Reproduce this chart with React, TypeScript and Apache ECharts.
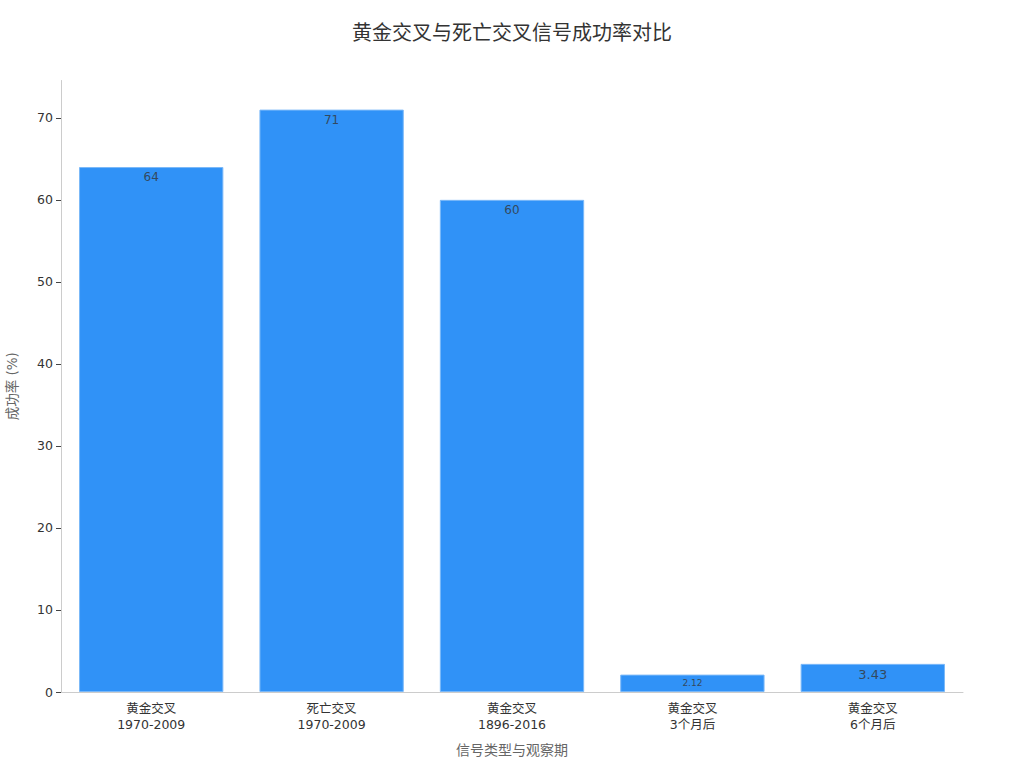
import * as echarts from 'echarts';
import React, { useEffect, useRef } from 'react';

const categories = [
  '黄金交叉\n1970-2009',
  '死亡交叉\n1970-2009',
  '黄金交叉\n1896-2016',
  '黄金交叉\n3个月后',
  '黄金交叉\n6个月后',
];
const successRates = [64, 71, 60, 2.12, 3.43];
const yTicks = [0, 10, 20, 30, 40, 50, 60, 70];

// label sizes differ per bar, like the original
const labelSizes = [12, 12, 12, 9, 13];

const FONT = '"DejaVu Sans", "Noto Sans CJK SC", sans-serif';

const App: React.FC = () => {
  const chartRef = useRef<HTMLDivElement>(null);

  useEffect(() => {
    const myChart = echarts.init(chartRef.current!, null, { renderer: 'svg' });

    const option = {
      animation: false,
      textStyle: { fontFamily: FONT },
      title: {
        text: '黄金交叉与死亡交叉信号成功率对比',
        left: 'center',
        top: 18,
        textStyle: { fontSize: 20, fontWeight: 'normal', color: '#333', fontFamily: FONT },
      },
      grid: { left: 61, right: 61, top: 80.5, bottom: 76, outerBoundsMode: 'none' },
      xAxis: {
        type: 'category',
        data: categories,
        name: '信号类型与观察期',
        nameLocation: 'middle',
        nameGap: 51,
        nameMoveOverlap: false,
        nameTextStyle: { fontSize: 14, color: '#666', fontFamily: FONT },
        axisLine: { lineStyle: { color: '#ccc' } },
        axisTick: { alignWithLabel: true, length: 5, lineStyle: { color: '#444' } },
        axisLabel: { fontSize: 12.5, color: '#333', lineHeight: 16, margin: 8, fontFamily: FONT },
      },
      yAxis: {
        type: 'value',
        min: 0,
        max: 74.55,
        name: '成功率 (%)',
        nameLocation: 'middle',
        nameGap: 42,
        nameMoveOverlap: false,
        nameTextStyle: { fontSize: 13.5, color: '#666', fontFamily: FONT },
        splitLine: { show: false },
        axisLine: { show: true, lineStyle: { color: '#ccc' } },
        axisTick: { show: true, length: 5, customValues: yTicks, lineStyle: { color: '#444' } },
        axisLabel: { fontSize: 12.5, color: '#333', margin: 8, customValues: yTicks, fontFamily: FONT },
      },
      series: [
        {
          type: 'bar',
          barCategoryGap: '20%',
          data: successRates.map((v, i) => ({
            value: v,
            label: { fontSize: labelSizes[i] },
          })),
          itemStyle: { color: '#3092f7', borderColor: '#7ab8f8', borderWidth: 1 },
          label: {
            show: true,
            position: 'insideTop',
            distance: 4,
            color: '#34495e',
            fontFamily: FONT,
          },
        },
      ],
    };

    myChart.setOption(option);

    return () => {
      myChart.dispose();
    };
  }, []);

  return (
    <div
      ref={chartRef}
      style={{ position: 'absolute', left: 0, top: 0, width: 1024, height: 768 }}
    />
  );
};

export default App;
